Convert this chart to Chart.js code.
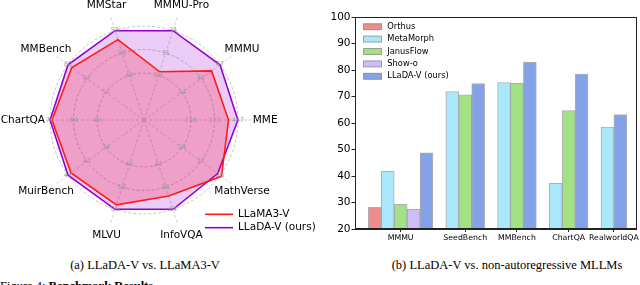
<!DOCTYPE html>
<html>
<head>
<meta charset="utf-8">
<script src="https://cdn.jsdelivr.net/npm/chart.js@4.4.1/dist/chart.umd.min.js"></script>
<style>
  html, body { margin: 0; padding: 0; background: #fff; }
  body { width: 640px; height: 285px; position: relative; overflow: hidden; }
  #radar { position: absolute; left: 0; top: 0; }
  #bars { position: absolute; left: 320px; top: 0; }
  .cap { position: absolute; top: 258px; font-family: 'Liberation Serif', serif; font-size: 12.5px; color: #000; white-space: nowrap; transform: translateX(-50%); }
  .fig { position: absolute; left: 0; top: 279px; font-family: 'Liberation Serif', serif; font-size: 12.5px; color: #000; white-space: nowrap; }
</style>
</head>
<body>
<canvas id="radar" width="320" height="245"></canvas>
<canvas id="bars" width="320" height="245"></canvas>
<div class="cap" style="left:145px;">(a) LLaDA-V vs. LLaMA3-V</div>
<div class="cap" style="left:507px;">(b) LLaDA-V vs. non-autoregressive MLLMs</div>
<div class="fig">Figure 4: <b>Benchmark Results.</b></div>
<script>
// ---- radar data (each axis has its own scale, values are fraction of the outer ring)
var radarAxes = ['MMStar', 'MMMU-Pro', 'MMMU', 'MME', 'MathVerse', 'InfoVQA', 'MLVU', 'MuirBench', 'ChartQA', 'MMBench'];
var llamaScores = [0.90, 0.54, 0.89, 0.90, 1.02, 0.85, 0.95, 0.96, 0.98, 0.95];
var lladaScores = [1.00, 1.00, 1.00, 1.00, 0.97, 1.00, 1.00, 1.00, 1.00, 1.00];
var ringLevels = [0.5, 0.75, 1.0];
var ringLabels = [
    ['40', '50', '58'], ['28', '31', '34'], ['34', '41', '47'], ['256', '373', '457'], ['24', '27', '28'],
    ['43', '55', '64'], ['40', '50', '58'], ['34', '41', '47'], ['49', '64', '76'], ['51', '67', '80']
];
var radarSeries = ['LLaMA3-V', 'LLaDA-V (ours)'];
var radarColors = ['#ff1a1a', '#9400d3'];

// ---- bar data
var benchNames = ['MMMU', 'SeedBench', 'MMBench', 'ChartQA', 'RealworldQA'];
var modelNames = ['Orthus', 'MetaMorph', 'JanusFlow', 'Show-o', 'LLaDA-V (ours)'];
var orthus = [28.2, null, null, null, null];
var metaMorph = [41.8, 71.9, 75.3, 37.2, 58.5];
var janusFlow = [29.3, 70.6, 75.0, 64.7, null];
var showO = [27.4, null, null, null, null];
var lladaV = [48.7, 74.9, 83.0, 78.5, 63.2];
var barColors = ['#f08c8c', '#a8e8fa', '#a2e285', '#cebdfa', '#84a2e8'];

var font = '"DejaVu Sans", sans-serif';

var radarDecor = {
    id: 'radarDecor',
    afterDatasetsDraw: function (chart) {
        var r = chart.scales.r;
        var ctx = chart.ctx;
        ctx.save();
        ctx.textAlign = 'center';
        ctx.textBaseline = 'middle';
        ctx.font = '6.5px ' + font;
        ctx.fillStyle = '#9a9a9a';
        for (var i = 0; i < radarAxes.length; i++) {
            for (var j = 0; j < ringLevels.length; j++) {
                var p = r.getPointPositionForValue(i, ringLevels[j]);
                ctx.fillText(ringLabels[i][j], p.x, p.y);
            }
        }
        ctx.font = '10.5px ' + font;
        ctx.fillStyle = '#000';
        for (var i = 0; i < radarAxes.length; i++) {
            var q = r.getPointPositionForValue(i, 1.29);
            ctx.fillText(radarAxes[i], q.x, q.y);
        }
        // legend
        ctx.textAlign = 'left';
        for (var k = 0; k < radarSeries.length; k++) {
            var y = 214.3 + k * 13.4;
            ctx.strokeStyle = radarColors[k];
            ctx.lineWidth = 1.6;
            ctx.beginPath();
            ctx.moveTo(205, y);
            ctx.lineTo(233, y);
            ctx.stroke();
            ctx.fillText(radarSeries[k], 238, y);
        }
        ctx.restore();
    }
};

new Chart(document.getElementById('radar'), {
    type: 'radar',
    data: {
        labels: radarAxes,
        datasets: [
            {
                label: radarSeries[0],
                data: llamaScores,
                borderColor: radarColors[0],
                backgroundColor: 'rgba(255, 0, 40, 0.22)',
                borderWidth: 1.6,
                pointRadius: 0,
                fill: true
            },
            {
                label: radarSeries[1],
                data: lladaScores,
                borderColor: radarColors[1],
                backgroundColor: 'rgba(148, 0, 211, 0.2)',
                borderWidth: 1.6,
                pointRadius: 0,
                fill: true
            }
        ]
    },
    options: {
        responsive: false,
        animation: false,
        layout: { padding: { left: 36, right: 68, top: 12, bottom: 17 } },
        plugins: { legend: { display: false }, tooltip: { enabled: false } },
        scales: {
            r: {
                min: 0,
                max: 1.15,
                startAngle: -18,
                afterBuildTicks: function (scale) {
                    scale.ticks = [0, 0.5, 0.75, 1].map(function (v) { return { value: v }; });
                },
                ticks: { display: false },
                grid: { circular: true, color: '#b4b4b4', lineWidth: 0.8 },
                border: { dash: [3, 2] },
                angleLines: { color: '#c4c4c4', lineWidth: 0.8, borderDash: [3, 2] },
                pointLabels: { display: false }
            }
        }
    },
    plugins: [radarDecor]
});

// ---- bars: each group only keeps the models that have a score, bars sit side by side
var seriesValues = [orthus, metaMorph, janusFlow, showO, lladaV];
var slotData = seriesValues.map(function () { return []; });
var groupCenters = [];
var slot = 0;
benchNames.forEach(function (name, b) {
    var first = slot;
    seriesValues.forEach(function (vals, s) {
        if (vals[b] != null) {
            slotData[s].push({ x: slot + 0.5, y: vals[b] });
            slot++;
        }
    });
    groupCenters.push((first + slot) / 2);
    slot++;
});

var barDecor = {
    id: 'barDecor',
    afterDraw: function (chart) {
        var a = chart.chartArea;
        var ctx = chart.ctx;
        ctx.save();
        ctx.strokeStyle = '#222';
        ctx.lineWidth = 1;
        ctx.strokeRect(Math.round(a.left) + 0.5, Math.round(a.top) + 0.5, Math.round(a.right - a.left) - 1, Math.round(a.bottom - a.top) - 1);
        ctx.font = '8.3px ' + font;
        ctx.textBaseline = 'middle';
        ctx.textAlign = 'left';
        for (var k = 0; k < modelNames.length; k++) {
            var y = 26.7 + k * 12.4;
            ctx.fillStyle = barColors[k];
            ctx.fillRect(43.5, y - 3, 18, 6);
            ctx.strokeStyle = 'rgba(110,110,110,0.6)';
            ctx.strokeRect(43.5, y - 3, 18, 6);
            ctx.fillStyle = '#000';
            ctx.fillText(modelNames[k], 67.3, y);
        }
        ctx.restore();
    }
};

new Chart(document.getElementById('bars'), {
    type: 'bar',
    data: {
        datasets: modelNames.map(function (m, s) {
            return {
                label: m,
                data: slotData[s],
                backgroundColor: barColors[s],
                borderColor: 'rgba(110,110,110,0.55)',
                borderWidth: 1,
                borderSkipped: false,
                grouped: false,
                barPercentage: 1,
                categoryPercentage: 1
            };
        })
    },
    options: {
        responsive: false,
        animation: false,
        layout: { padding: { left: 0, right: 3, top: 17, bottom: 0 } },
        plugins: { legend: { display: false }, tooltip: { enabled: false } },
        scales: {
            x: {
                type: 'linear',
                offset: false,
                min: -1.03,
                max: 20.75,
                afterBuildTicks: function (scale) {
                    scale.ticks = groupCenters.map(function (v) { return { value: v }; });
                },
                afterFit: function (scale) { scale.height = 16; },
                ticks: {
                    autoSkip: false,
                    maxRotation: 0,
                    padding: 1,
                    color: '#000',
                    font: { family: 'DejaVu Sans', size: 7.8 },
                    callback: function (value, index) { return benchNames[index]; }
                },
                grid: { drawOnChartArea: false, offset: false, tickLength: 3, color: '#222' },
                border: { color: '#222' }
            },
            y: {
                min: 20,
                max: 100,
                ticks: {
                    stepSize: 10,
                    padding: 1,
                    color: '#000',
                    font: { family: 'DejaVu Sans', size: 10.5 }
                },
                afterFit: function (scale) { scale.width = 35; },
                grid: { drawOnChartArea: false, tickLength: 3.5, color: '#222' },
                border: { color: '#222' }
            }
        }
    },
    plugins: [barDecor]
});
</script>
</body>
</html>
